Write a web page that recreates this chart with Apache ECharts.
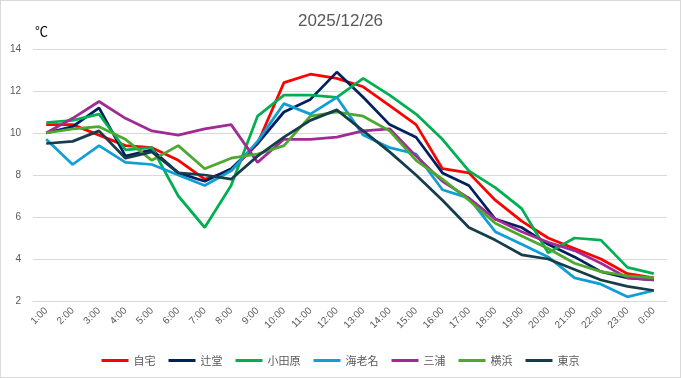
<!DOCTYPE html>
<html>
<head>
<meta charset="utf-8">
<script src="https://cdn.jsdelivr.net/npm/echarts@6/dist/echarts.min.js"></script>
<style>
  html, body { margin: 0; padding: 0; background: #fff; }
  #chart { width: 681px; height: 378px; box-sizing: border-box; border: 1px solid #d9d9d9; }
</style>
</head>
<body>
<div id="chart"></div>
<script>
// hours on the x axis
var hours = ['1:00','2:00','3:00','4:00','5:00','6:00','7:00','8:00','9:00','10:00','11:00','12:00',
             '13:00','14:00','15:00','16:00','17:00','18:00','19:00','20:00','21:00','22:00','23:00','0:00'];

// temperatures (°C)
var jitaku   = [10.4,10.4,9.9,9.4,9.3,8.7,7.8,8.2,9.5,12.4,12.8,12.6,12.2,11.3,10.4,8.3,8.1,6.8,5.8,5.0,4.5,4.0,3.3,3.1];
var tsujido  = [10.0,10.3,11.2,8.9,9.2,8.1,7.7,8.3,9.5,11.0,11.6,12.9,11.7,10.4,9.8,8.1,7.5,5.9,5.5,4.7,4.1,3.4,3.1,3.0];
var odawara  = [10.5,10.6,10.9,9.2,9.3,7.0,5.5,7.5,10.8,11.8,11.8,11.7,12.6,11.8,10.9,9.7,8.2,7.4,6.4,4.3,5.0,4.9,3.6,3.3];
var ebina    = [9.7,8.5,9.4,8.6,8.5,8.0,7.5,8.2,9.6,11.4,10.9,11.7,9.9,9.3,9.0,7.3,6.9,5.3,4.7,4.1,3.1,2.8,2.2,2.5];
var miura    = [10.0,10.7,11.5,10.7,10.1,9.9,10.2,10.4,8.6,9.7,9.7,9.8,10.1,10.2,8.9,7.7,6.9,5.9,5.3,4.8,4.4,3.8,3.1,3.0];
var yokohama = [10.0,10.2,10.3,9.7,8.7,9.4,8.3,8.8,9.0,9.4,10.8,11.0,10.8,10.1,8.7,7.8,6.8,5.7,5.1,4.5,3.8,3.4,3.2,3.1];
var tokyo    = [9.5,9.6,10.1,8.8,9.1,8.1,8.0,7.8,8.9,9.8,10.6,11.1,10.1,9.1,8.0,6.8,5.5,4.9,4.2,4.0,3.5,3.0,2.7,2.5];

var names  = ['自宅','辻堂','小田原','海老名','三浦','横浜','東京'];
var values = [jitaku, tsujido, odawara, ebina, miura, yokohama, tokyo];
var colors = ['#ff0000','#002060','#00b050','#0f9ed5','#a02b93','#4ea72e','#173c4c'];

var series = [];
for (var i = 0; i < names.length; i++) {
    series.push({
        name: names[i],
        type: 'line',
        data: values[i],
        symbol: 'none',
        lineStyle: { width: 2.75, color: colors[i] },
        itemStyle: { color: colors[i] }
    });
}

var option = {
    backgroundColor: '#fff',
    textStyle: { fontFamily: 'Liberation Sans, Noto Sans CJK JP, sans-serif' },
    title: {
        text: '2025/12/26',
        left: 'center',
        top: 7,
        textStyle: { fontSize: 17, fontWeight: 'normal', color: '#595959' }
    },
    legend: {
        data: names,
        top: 349,
        left: 'center',
        icon: 'rect',
        itemWidth: 27,
        itemHeight: 3,
        itemGap: 13,
        textStyle: { fontSize: 11, color: '#595959', fontFamily: 'Noto Sans CJK JP' }
    },
    grid: { left: 32, right: 13, top: 48, bottom: 76, containLabel: false },
    xAxis: {
        type: 'category',
        data: hours,
        boundaryGap: true,
        axisLine: { lineStyle: { color: '#d9d9d9' } },
        axisTick: { show: false },
        axisLabel: { rotate: 45, interval: 0, fontSize: 10, color: '#595959', margin: 8 }
    },
    yAxis: {
        type: 'value',
        min: 2,
        max: 14,
        interval: 2,
        name: '℃',
        nameLocation: 'end',
        nameGap: 18,
        nameTextStyle: { align: 'left', verticalAlign: 'middle', fontSize: 13, color: '#000', fontFamily: 'Noto Sans CJK JP', padding: [0, 0, 0, 2] },
        axisLine: { show: false },
        axisTick: { show: false },
        axisLabel: { fontSize: 10, color: '#595959', margin: 12 },
        splitLine: { lineStyle: { color: '#d9d9d9' } }
    },
    series: series
};

var myChart = echarts.init(document.getElementById('chart'));
myChart.setOption(option);
</script>
</body>
</html>
